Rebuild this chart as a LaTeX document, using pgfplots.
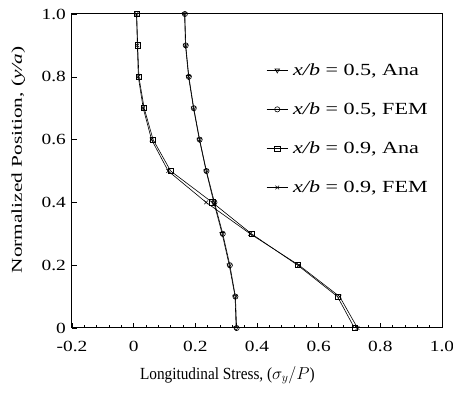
\documentclass[border=0pt]{standalone}
\usepackage{pgfplots}
\pgfplotsset{compat=1.18}
\usepackage{fontspec}
\setmainfont{Liberation Serif}
\begin{document}
\fontsize{15}{17}\selectfont
\begin{tikzpicture}
\begin{axis}[
  scale only axis,
  width=370pt, height=314pt,
  xmin=-0.2, xmax=1.0, ymin=0, ymax=1.0,
  xtick={-0.2,0,0.2,0.4,0.6,0.8,1.0},
  xticklabels={-0.2,0,0.2,0.4,0.6,0.8,1.0},
  ytick={0,0.2,0.4,0.6,0.8,1.0},
  yticklabels={0,0.2,0.4,0.6,0.8,1.0},
  minor x tick num=4,
  tick align=inside,
  tick style={black, line width=0.5pt},
  major tick length=5pt, minor tick length=3pt,
  axis line style={line width=1pt},
  xtick pos=bottom, ytick pos=left,
  /pgf/number format/assume math mode=true,
  tick label style={font=\fontsize{15.5}{17}\selectfont\addfontfeature{FakeStretch=1.25}},
  xticklabel style={yshift=-8pt},
  yticklabel style={xshift=-1pt},
  xlabel={Longitudinal Stress, ($\sigma_{y}/P$)},
  ylabel={Normalized Position, (\textit{y/a})},
  xlabel style={at={(axis description cs:0.42,-0.15)}, anchor=center, font=\fontsize{17}{19}\selectfont\addfontfeature{FakeStretch=0.9}},
  ylabel style={at={(axis description cs:-0.145,0.535)}, anchor=center, font=\fontsize{15}{17}\selectfont\addfontfeature{FakeStretch=1.42}},
  legend style={draw=none, fill=none, at={(0.525,0.85)}, anchor=north west,
    row sep=21pt, font=\fontsize{17}{19}\selectfont\addfontfeature{FakeStretch=1.3}, inner sep=0pt,
    nodes={inner xsep=5pt}},
  legend cell align=left,
  legend image code/.code={\draw[#1] (0pt,0pt) -- (21pt,0pt); \draw[#1, only marks] plot coordinates {(10.5pt,0pt)};},
  every axis plot/.append style={black, line width=0.6pt, mark size=2.6pt, mark options={solid, fill=white, line width=0.6pt}},
]
\addplot[mark=triangle, mark options={rotate=180}] coordinates {
 (0.332,0) (0.329,0.1) (0.31,0.2) (0.287,0.3) (0.26,0.4) (0.235,0.5) (0.213,0.6) (0.194,0.7) (0.178,0.8) (0.168,0.9) (0.165,1.0)};
\addlegendentry{\textit{x/b} = 0.5, Ana}
\addplot[mark=o] coordinates {
 (0.334,0) (0.330,0.1) (0.312,0.2) (0.289,0.3) (0.262,0.4) (0.236,0.5) (0.214,0.6) (0.195,0.7) (0.179,0.8) (0.169,0.9) (0.166,1.0)};
\addlegendentry{\textit{x/b} = 0.5, FEM}
\addplot[mark=square] coordinates {
 (0.716,0) (0.661,0.1) (0.532,0.2) (0.382,0.3) (0.255,0.4) (0.12,0.5) (0.063,0.6) (0.034,0.7) (0.017,0.8) (0.013,0.9) (0.010,1.0)};
\addlegendentry{\textit{x/b} = 0.9, Ana}
\addplot[mark=x] coordinates {
 (0.726,0) (0.668,0.1) (0.536,0.2) (0.378,0.3) (0.235,0.4) (0.112,0.5) (0.058,0.6) (0.031,0.7) (0.015,0.8) (0.012,0.9) (0.009,1.0)};
\addlegendentry{\textit{x/b} = 0.9, FEM}
\end{axis}
\pgfresetboundingbox
\path ([shift={(-72pt,-65pt)}]current axis.south west) rectangle ([shift={(11pt,14pt)}]current axis.north east);
\end{tikzpicture}
\end{document}
